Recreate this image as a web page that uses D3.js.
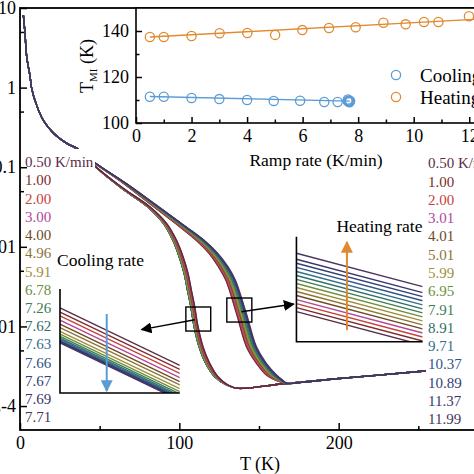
<!DOCTYPE html>
<html>
<head>
<meta charset="utf-8">
<script src="https://cdn.jsdelivr.net/npm/d3@7"></script>
<style>
  body { margin: 0; background: #fff; }
</style>
</head>
<body>
<svg id="chart" width="474" height="474" font-family="'Liberation Serif', 'Times New Roman', Times, serif"></svg>
<script>
// ---------------------------------------------------------------- data
var coolRates = ["0.50","1.00","2.00","3.00","4.00","4.96","5.91","6.78","7.26","7.62","7.63","7.66","7.67","7.69","7.71"];
var heatRates = ["0.50","1.00","2.00","3.01","4.01","5.01","5.99","6.95","7.91","8.91","9.71","10.37","10.89","11.37","11.99"];
var rateColors = ["#5b2c4a","#7b2d2d","#c9403a","#b1479b","#6e4b1e","#8c7439","#a08f3a","#6f8e3c",
                  "#3f7d4f","#2f6f6a","#356f8a","#2f5587","#343f77","#3b3769","#4a3560"];

// inset: T_MI vs ramp rate
var coolRamp = [0.5,1.0,2.0,3.0,4.0,4.96,5.91,6.78,7.26,7.62,7.63,7.66,7.67,7.69,7.71];
var coolTmi  = [111.4,111.4,110.9,110.4,110.0,109.6,109.7,109.1,109.1,109.5,110.2,109.3,109.8,109.0,109.6];
var heatRamp = [0.5,1.0,2.0,3.01,4.01,5.01,5.99,6.95,7.91,8.91,9.71,10.37,10.89,11.99];
var heatTmi  = [137.4,137.4,137.8,139.0,139.1,138.3,140.4,141.3,141.6,143.6,142.9,143.9,143.9,146.4];
var coolFitX = [0.5, 7.7],  coolFitY = [111.5, 109.5];
var heatFitX = [0.5, 13.0], heatFitY = [137.4, 145.6];

// main curves, log10(R) vs T; spread = T shift of the fastest rate
var lowT    = [2.1,3.1,4.2,6.3,7.3,10.4,14.6,20.9,29.3];
var lowLogR = [0.91,0.69,0.39,0.14,-0.01,-0.22,-0.41,-0.57,-0.70];

var heatT      = lowT.concat([35.5,47,64.8,84.2,100.4,110.4,118.5,124.5,129.2,135.9,142.1,148.4,154.6,163,167.2,180,198.7,220,254,300]);
var heatLogR   = lowLogR.concat([-0.76,-0.95,-1.20,-1.50,-1.75,-1.915,-2.08,-2.25,-2.42,-2.84,-3.255,-3.464,-3.61,-3.695,-3.715,-3.695,-3.657,-3.62,-3.56,-3.48]);
var heatSpread = [0,0,0,0,0,0,0,0,0, 0,0.5,1.5,3,4,5,5.5,6,6,6.2,6.3,6.2,6.4,3,0,0,0,0,0,0];

var coolT      = lowT.concat([35.5,47,64.8,81.5,92,98.2,102.4,105.5,107.6,109.7,111.8,114.9,119.1,124.3,130.6,136.9,165.3,198.7,254,300]);
var coolLogR   = lowLogR.concat([-0.77,-0.985,-1.265,-1.496,-1.705,-1.915,-2.124,-2.333,-2.543,-2.752,-3.004,-3.255,-3.464,-3.632,-3.736,-3.778,-3.72,-3.657,-3.56,-3.48]);
var coolSpread = [0,0,0,0,0,0,0,0,0, 0,0.3,1,1.5,2,2.3,2.5,2.5,2.5,2.5,2.5,2.5,2.5,2,1,0,0,0,0,0];

// magnified panels: level of each line at the left edge (0-100), and its drop across
var coolPanelLeft = [81.8,77.9,74.1,70.0,66.2,63.0,59.4,56.6,54.4,52.7,51.5,50.5,49.6,48.9,48.2];
var coolPanelDrop = 55.2;
var heatPanelLeft = [28.6,32.5,36.3,40.1,44.0,47.8,51.6,55.4,59.3,63.1,66.9,70.8,74.7,78.5,84.2];
var heatPanelDrop = 31.8;

var yTicks = [1e-4,1e-3,0.01,0.1,1,10];
var yTickLabels = ["1E-4","0.001","0.01","0.1","1","10"];
var yMinor = [5e-4,5e-3,0.05,0.5,5];

// ---------------------------------------------------------------- layout
var svg = d3.select("#chart");
var defs = svg.append("defs");

var x = d3.scaleLinear().domain([0,300]).range([20,498]);
var y = d3.scaleLog().domain([5e-5,10]).range([430,8]);

defs.append("clipPath").attr("id","plotclip")
  .append("rect").attr("x",20).attr("y",8).attr("width",478).attr("height",422);

function arrowMarker(id, color, size) {
  defs.append("marker").attr("id",id)
    .attr("viewBox","0 0 10 10").attr("refX",9).attr("refY",5)
    .attr("markerWidth",size).attr("markerHeight",size).attr("markerUnits","userSpaceOnUse")
    .attr("orient","auto")
    .append("path").attr("d","M0,0L10,5L0,10Z").attr("fill",color);
}
arrowMarker("arrBlack","#000",11);
arrowMarker("arrBlue","#5b9bd5",12);
arrowMarker("arrOrange","#e0892e",12);

// ---------------------------------------------------------------- main curves
var line = d3.line().x(function(d){return x(d[0]);}).y(function(d){return y(d[1]);})
  .curve(d3.curveCatmullRom.alpha(0.5));

function curvePoints(T, logR, spread, frac, sign) {
  return T.map(function(t,i){ return [t + sign*spread[i]*frac, Math.pow(10, logR[i])]; });
}

var curves = svg.append("g").attr("clip-path","url(#plotclip)");

// cooling: faster -> lower T
for (var i = coolRates.length-1; i >= 0; i--) {
  var f = (+coolRates[i] - 0.5) / (7.71 - 0.5);
  curves.append("path").datum(curvePoints(coolT, coolLogR, coolSpread, f, -1))
    .attr("d", line).attr("fill","none").attr("stroke", rateColors[i]).attr("stroke-width",1.3);
}
// heating: faster -> higher T
for (var j = 0; j < heatRates.length; j++) {
  var g = (+heatRates[j] - 0.5) / (11.99 - 0.5);
  curves.append("path").datum(curvePoints(heatT, heatLogR, heatSpread, g, 1))
    .attr("d", line).attr("fill","none").attr("stroke", rateColors[j]).attr("stroke-width",1.3);
}

// ---------------------------------------------------------------- rate lists
var rowL = d3.scalePoint().domain(d3.range(coolRates.length)).range([162,417]);
var rowR = d3.scalePoint().domain(d3.range(heatRates.length)).range([163,419]);
// white backing where the curves run under the labels
svg.append("rect").attr("x",23).attr("y",149).attr("width",72).attr("height",22).attr("fill","#fff");
svg.append("rect").attr("x",426).attr("y",152).attr("width",48).attr("height",276).attr("fill","#fff");

svg.append("g").selectAll("text").data(coolRates).enter().append("text")
  .attr("x",25).attr("y",function(d,i){return rowL(i);}).attr("dy","0.35em")
  .attr("font-size",15).attr("fill",function(d,i){return rateColors[i];})
  .text(function(d,i){return i===0 ? d+" K/min" : d;});
svg.append("g").selectAll("text").data(heatRates).enter().append("text")
  .attr("x",428).attr("y",function(d,i){return rowR(i);}).attr("dy","0.35em")
  .attr("font-size",15).attr("fill",function(d,i){return rateColors[i];})
  .text(function(d,i){return i===0 ? d+" K/min" : d;});

// ---------------------------------------------------------------- magnifier boxes + arrows
function boxAt(t0, t1, r0, r1) {
  svg.append("rect").attr("x",x(t0)).attr("y",y(r1))
    .attr("width",x(t1)-x(t0)).attr("height",y(r0)-y(r1))
    .attr("fill","none").attr("stroke","#000").attr("stroke-width",1.4);
}
boxAt(104.1,119.7,Math.pow(10,-3.058),Math.pow(10,-2.756));
boxAt(129.8,145.5,Math.pow(10,-2.945),Math.pow(10,-2.643));

svg.append("line").attr("x1",x(109.7)).attr("y1",y(Math.pow(10,-2.916)))
  .attr("x2",x(76.3)).attr("y2",y(Math.pow(10,-3.04)))
  .attr("stroke","#000").attr("stroke-width",1.5).attr("marker-end","url(#arrBlack)");
svg.append("line").attr("x1",x(139)).attr("y1",y(Math.pow(10,-2.815)))
  .attr("x2",x(171.8)).attr("y2",y(Math.pow(10,-2.719)))
  .attr("stroke","#000").attr("stroke-width",1.5).attr("marker-end","url(#arrBlack)");

// ---------------------------------------------------------------- panels
function drawPanel(id, t0, t1, lr0, lr1, left, drop, arrowX, arrowFrom, arrowTo, arrowId, arrowColor) {
  var px0 = x(t0), px1 = x(t1), pyTop = y(Math.pow(10,lr1)), pyBot = y(Math.pow(10,lr0));
  var sx = d3.scaleLinear().domain([0,1]).range([px0,px1]);
  var sy = d3.scaleLinear().domain([0,100]).range([pyBot,pyTop]);
  defs.append("clipPath").attr("id",id).append("rect")
    .attr("x",px0).attr("y",pyTop).attr("width",px1-px0).attr("height",pyBot-pyTop);
  var gp = svg.append("g");
  gp.append("g").attr("clip-path","url(#"+id+")").selectAll("line").data(left).enter().append("line")
    .attr("x1",sx(0)).attr("y1",function(d){return sy(d);})
    .attr("x2",sx(1)).attr("y2",function(d){return sy(d-drop);})
    .attr("stroke",function(d,i){return rateColors[i];}).attr("stroke-width",1.4);
  gp.append("path").attr("d","M"+px0+","+pyTop+"V"+pyBot+"H"+px1)
    .attr("fill","none").attr("stroke","#000").attr("stroke-width",1.6);
  gp.append("line").attr("x1",sx(arrowX)).attr("x2",sx(arrowX))
    .attr("y1",sy(arrowFrom)).attr("y2",sy(arrowTo))
    .attr("stroke",arrowColor).attr("stroke-width",2).attr("marker-end","url(#"+arrowId+")");
  return {x:px0, top:pyTop};
}
var cp = drawPanel("coolclip",25.1,100.3,-3.837,-2.53,coolPanelLeft,coolPanelDrop,0.39,76,2,"arrBlue","#5b9bd5");
var hp = drawPanel("heatclip",173.5,252.7,-3.192,-1.873,heatPanelLeft,heatPanelDrop,0.4,11,95,"arrOrange","#e0892e");

svg.append("text").attr("x",cp.x-3).attr("y",cp.top-23).attr("font-size",17.5).text("Cooling rate");
svg.append("text").attr("x",hp.x+40).attr("y",hp.top-5).attr("font-size",17.5).text("Heating rate");

// ---------------------------------------------------------------- main axes
function styleAxis(g) {
  g.select(".domain").remove();
  g.selectAll("line").attr("stroke","#000").attr("stroke-width",1.5);
  g.attr("font-size",18).attr("font-family","'Liberation Serif', 'Times New Roman', Times, serif");
  g.selectAll("text").attr("fill","#000");
}
var gx = svg.append("g").attr("transform","translate(0,430)");
gx.call(d3.axisBottom(x).tickValues([0,100,200]).tickSize(-7).tickPadding(6));
styleAxis(gx);
var gxm = svg.append("g").attr("transform","translate(0,430)");
gxm.call(d3.axisBottom(x).tickValues([50,150,250]).tickSize(-4).tickFormat(""));
styleAxis(gxm);

var gy = svg.append("g").attr("transform","translate(20,0)");
gy.call(d3.axisLeft(y).tickValues(yTicks).tickSize(-7).tickPadding(4)
  .tickFormat(function(d,i){return yTickLabels[i];}));
styleAxis(gy);
var gym = svg.append("g").attr("transform","translate(20,0)");
gym.call(d3.axisLeft(y).tickValues(yMinor).tickSize(-4).tickFormat(""));
styleAxis(gym);

svg.append("rect").attr("x",20).attr("y",8).attr("width",478).attr("height",422)
  .attr("fill","none").attr("stroke","#000").attr("stroke-width",1.8);
svg.append("text").attr("x",260).attr("y",470).attr("text-anchor","middle").attr("font-size",18).text("T (K)");

// ---------------------------------------------------------------- inset
var ix = d3.scaleLinear().domain([0,13]).range([136,497]);
var iy = d3.scaleLinear().domain([100,150]).range([123,8]);
var inset = svg.append("g");
inset.append("rect").attr("x",136).attr("y",8).attr("width",361).attr("height",115)
  .attr("fill","#fff").attr("stroke","none");

var ixa = inset.append("g").attr("transform","translate(0,123)");
ixa.call(d3.axisBottom(ix).tickValues([0,2,4,6,8,10,12]).tickSize(-6).tickPadding(6));
styleAxis(ixa);
var ixm = inset.append("g").attr("transform","translate(0,123)");
ixm.call(d3.axisBottom(ix).tickValues([1,3,5,7,9,11]).tickSize(-3.5).tickFormat(""));
styleAxis(ixm);
var iya = inset.append("g").attr("transform","translate(136,0)");
iya.call(d3.axisLeft(iy).tickValues([100,120,140]).tickSize(-6).tickPadding(7));
styleAxis(iya);
var iym = inset.append("g").attr("transform","translate(136,0)");
iym.call(d3.axisLeft(iy).tickValues([110,130]).tickSize(-3.5).tickFormat(""));
styleAxis(iym);

inset.append("rect").attr("x",136).attr("y",8).attr("width",361).attr("height",115)
  .attr("fill","none").attr("stroke","#000").attr("stroke-width",1.6);

var iline = d3.line().x(function(d){return ix(d[0]);}).y(function(d){return iy(d[1]);});
var blue = "#5b9bd5", orange = "#e0892e";
inset.append("path").datum(d3.zip(coolFitX,coolFitY)).attr("d",iline)
  .attr("fill","none").attr("stroke",blue).attr("stroke-width",1.4);
inset.append("path").datum(d3.zip(heatFitX,heatFitY)).attr("d",iline)
  .attr("fill","none").attr("stroke",orange).attr("stroke-width",1.4);

inset.append("g").selectAll("circle").data(d3.zip(coolRamp,coolTmi)).enter().append("circle")
  .attr("cx",function(d){return ix(d[0]);}).attr("cy",function(d){return iy(d[1]);}).attr("r",4.6)
  .attr("fill","none").attr("stroke",blue).attr("stroke-width",1.3);
inset.append("g").selectAll("circle").data(d3.zip(heatRamp,heatTmi)).enter().append("circle")
  .attr("cx",function(d){return ix(d[0]);}).attr("cy",function(d){return iy(d[1]);}).attr("r",4.6)
  .attr("fill","none").attr("stroke",orange).attr("stroke-width",1.3);

// inset legend
var legendItems = [["Cooling",blue],["Heating",orange]];
legendItems.forEach(function(it,k){
  inset.append("circle").attr("cx",396).attr("cy",75+k*22).attr("r",4.6)
    .attr("fill","none").attr("stroke",it[1]).attr("stroke-width",1.3);
  inset.append("text").attr("x",420).attr("y",75+k*22).attr("dy","0.35em")
    .attr("font-size",19).text(it[0]);
});

inset.append("text").attr("x",316).attr("y",166).attr("text-anchor","middle")
  .attr("font-size",17.5).text("Ramp rate (K/min)");

var tl = inset.append("text").attr("transform","translate(93,66) rotate(-90)")
  .attr("text-anchor","middle").attr("font-size",18);
tl.append("tspan").text("T");
tl.append("tspan").attr("font-size",11).attr("dy",4).text("MI");
tl.append("tspan").attr("dy",-4).text(" (K)");
</script>
</body>
</html>
